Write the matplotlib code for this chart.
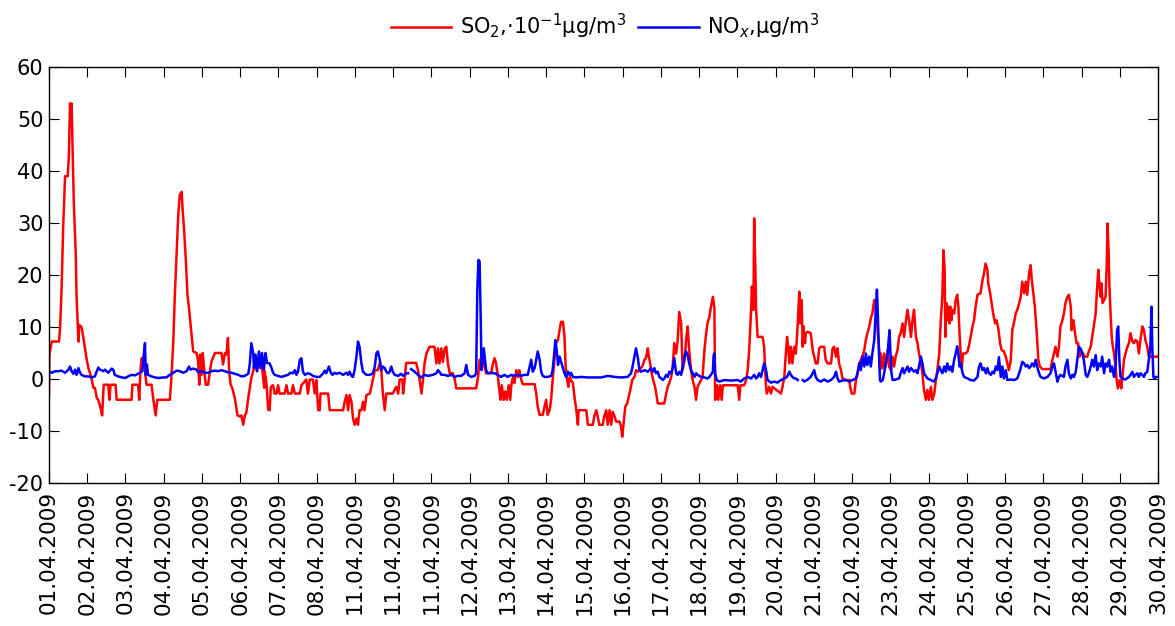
import numpy as np
import matplotlib
matplotlib.use("Agg")
import matplotlib.pyplot as plt

plt.rcParams["axes.unicode_minus"] = False

# Day labels under the 30 ticks (one tick per day of the record)
date_labels = [
    "01.04.2009", "02.04.2009", "03.04.2009", "04.04.2009", "05.04.2009",
    "06.04.2009", "07.04.2009", "08.04.2009", "11.04.2009", "11.04.2009",
    "11.04.2009", "12.04.2009", "13.04.2009", "14.04.2009", "15.04.2009",
    "16.04.2009", "17.04.2009", "18.04.2009", "19.04.2009", "20.04.2009",
    "21.04.2009", "22.04.2009", "23.04.2009", "24.04.2009", "25.04.2009",
    "26.04.2009", "27.04.2009", "28.04.2009", "29.04.2009", "30.04.2009",
]

# SO2 (x 10^-1 ug/m3): time in days since the start of the record
so2_days = [
    0.00, 0.01, 0.07, 0.26, 0.29, 0.33, 0.37, 0.42, 0.49, 0.52,
    0.55, 0.575, 0.59, 0.62, 0.65, 0.70, 0.72, 0.75, 0.77, 0.79,
    0.85, 0.90, 0.94, 0.98, 1.03, 1.11, 1.16, 1.20, 1.25, 1.29,
    1.36, 1.39, 1.43, 1.55, 1.58, 1.61, 1.74, 1.77, 2.16, 2.18,
    2.33, 2.36, 2.39, 2.42, 2.48, 2.51, 2.55, 2.68, 2.73, 2.79,
    2.83, 3.16, 3.20, 3.25, 3.29, 3.34, 3.38, 3.42, 3.47, 3.49,
    3.54, 3.58, 3.62, 3.66, 3.71, 3.77, 3.86, 3.90, 3.93, 3.95,
    3.99, 4.02, 4.06, 4.10, 4.16, 4.21, 4.25, 4.34, 4.51, 4.55,
    4.60, 4.64, 4.68, 4.71, 4.75, 4.79, 4.86, 4.93, 4.99, 5.03,
    5.08, 5.12, 5.16, 5.21, 5.25, 5.29, 5.34, 5.38, 5.44, 5.49,
    5.56, 5.63, 5.64, 5.69, 5.73, 5.77, 5.80, 5.86, 5.90, 5.95,
    5.99, 6.03, 6.16, 6.21, 6.25, 6.34, 6.38, 6.43, 6.56, 6.60,
    6.73, 6.77, 6.82, 6.90, 6.95, 6.99, 7.04, 7.08, 7.10, 7.30,
    7.34, 7.69, 7.73, 7.78, 7.82, 7.86, 7.91, 7.95, 7.99, 8.04,
    8.08, 8.12, 8.17, 8.21, 8.25, 8.30, 8.39, 8.43, 8.47, 8.52,
    8.60, 8.65, 8.69, 8.73, 8.78, 8.82, 8.99, 9.08, 9.13, 9.17,
    9.24, 9.26, 9.30, 9.34, 9.60, 9.65, 9.69, 9.74, 9.78, 9.82,
    9.87, 9.95, 10.08, 10.13, 10.17, 10.21, 10.26, 10.30, 10.35, 10.39,
    10.43, 10.48, 10.56, 10.61, 10.65, 11.17, 11.22, 11.26, 11.35, 11.39,
    11.43, 11.56, 11.61, 11.65, 11.69, 11.74, 11.78, 11.81, 11.84, 11.89,
    11.93, 11.97, 12.02, 12.06, 12.09, 12.13, 12.17, 12.22, 12.26, 12.30,
    12.35, 12.39, 12.70, 12.74, 12.78, 12.83, 12.91, 12.96, 13.00, 13.04,
    13.09, 13.13, 13.17, 13.22, 13.26, 13.31, 13.35, 13.39, 13.44, 13.48,
    13.51, 13.55, 13.58, 13.62, 13.65, 13.70, 13.74, 13.79, 13.83, 13.85,
    14.05, 14.09, 14.22, 14.26, 14.31, 14.35, 14.39, 14.48, 14.52, 14.57,
    14.61, 14.66, 14.70, 14.74, 14.79, 14.83, 14.92, 14.96, 14.99, 15.03,
    15.07, 15.12, 15.16, 15.20, 15.25, 15.31, 15.35, 15.40, 15.44, 15.48,
    15.53, 15.57, 15.61, 15.66, 15.68, 15.72, 15.76, 15.80, 15.85, 15.89,
    15.92, 16.09, 16.14, 16.18, 16.22, 16.27, 16.31, 16.35, 16.40, 16.44,
    16.48, 16.53, 16.57, 16.62, 16.66, 16.70, 16.74, 16.79, 16.83, 16.88,
    16.92, 16.96, 17.01, 17.05, 17.09, 17.14, 17.18, 17.22, 17.27, 17.31,
    17.36, 17.40, 17.42, 17.47, 17.50, 17.55, 17.59, 17.62, 18.01, 18.05,
    18.08, 18.18, 18.23, 18.27, 18.31, 18.36, 18.38, 18.42, 18.44, 18.47,
    18.49, 18.53, 18.66, 18.70, 18.75, 18.77, 18.83, 18.88, 18.92, 19.14,
    19.18, 19.23, 19.25, 19.30, 19.33, 19.36, 19.40, 19.44, 19.49, 19.53,
    19.58, 19.62, 19.64, 19.68, 19.71, 19.73, 19.77, 19.79, 19.84, 19.92,
    19.97, 20.01, 20.05, 20.10, 20.14, 20.18, 20.27, 20.31, 20.36, 20.45,
    20.49, 20.53, 20.58, 20.62, 20.66, 20.71, 20.75, 20.84, 20.93, 20.95,
    20.99, 21.06, 21.10, 21.14, 21.19, 21.23, 21.27, 21.32, 21.36, 21.40,
    21.45, 21.49, 21.53, 21.58, 21.62, 21.66, 21.71, 21.73, 21.75, 21.80,
    21.84, 21.88, 21.93, 21.97, 22.01, 22.06, 22.10, 22.14, 22.19, 22.23,
    22.27, 22.32, 22.36, 22.40, 22.45, 22.49, 22.54, 22.58, 22.62, 22.67,
    22.71, 22.75, 22.80, 22.84, 22.88, 22.93, 22.97, 23.01, 23.06, 23.10,
    23.15, 23.19, 23.23, 23.28, 23.32, 23.36, 23.39, 23.42, 23.44, 23.47,
    23.49, 23.52, 23.55, 23.57, 23.60, 23.62, 23.67, 23.71, 23.75, 23.78,
    23.81, 23.84, 23.87, 23.90, 23.97, 24.02, 24.06, 24.10, 24.15, 24.19,
    24.23, 24.28, 24.36, 24.41, 24.45, 24.49, 24.54, 24.56, 24.61, 24.65,
    24.69, 24.74, 24.78, 24.83, 24.87, 24.91, 24.97, 25.02, 25.06, 25.10,
    25.15, 25.19, 25.23, 25.28, 25.32, 25.37, 25.41, 25.45, 25.50, 25.54,
    25.58, 25.63, 25.67, 25.70, 25.74, 25.78, 25.83, 25.87, 25.91, 25.98,
    26.19, 26.24, 26.28, 26.32, 26.37, 26.41, 26.45, 26.50, 26.54, 26.58,
    26.63, 26.67, 26.72, 26.74, 26.79, 26.83, 26.87, 26.91, 26.95, 26.99,
    27.04, 27.08, 27.15, 27.19, 27.24, 27.28, 27.32, 27.37, 27.41, 27.44,
    27.47, 27.50, 27.52, 27.55, 27.59, 27.63, 27.66, 27.68, 27.71, 27.73,
    27.76, 27.79, 27.82, 27.85, 27.89, 27.92, 27.95, 28.00, 28.04, 28.07,
    28.11, 28.15, 28.20, 28.24, 28.28, 28.33, 28.37, 28.41, 28.46, 28.50,
    28.54, 28.59, 28.63, 28.67, 28.72, 28.76, 28.81, 29.00,
]
so2_vals = [
    -3.3, 4.7, 7.2, 7.2, 9.8, 17.5, 29.0, 39.0, 39.0, 43.0,
    53.0, 50.0, 53.0, 43.0, 33.5, 24.0, 16.0, 10.4, 7.2, 10.4,
    10.0, 7.9, 6.0, 4.0, 2.1, 0.2, -1.7, -1.7, -3.7, -4.0,
    -5.9, -7.0, -1.1, -1.1, -4.0, -1.1, -1.1, -4.0, -4.0, -1.1,
    -1.1, -4.0, 1.5, 4.0, 4.0, 1.5, -1.1, -1.1, -4.0, -7.0,
    -4.0, -4.0, 0.2, 7.2, 16.0, 24.5, 31.6, 35.4, 36.0, 33.0,
    27.8, 22.6, 16.2, 13.7, 9.8, 5.3, 5.0, 3.4, -1.1, 4.7,
    0.8, 5.0, 1.5, -1.1, -1.1, 1.5, 3.4, 5.0, 5.0, 2.8,
    5.0, 4.7, 7.9, 1.5, -1.1, -1.7, -3.7, -7.0, -7.2, -7.0,
    -8.8, -7.0, -6.5, -3.7, -1.7, 0.2, 1.5, 3.4, 1.5, 4.0,
    2.8, -1.7, 1.5, -1.1, -5.9, -6.0, -1.5, -1.2, -2.8, -2.8,
    -1.2, -2.8, -2.8, -1.2, -2.8, -2.8, -1.2, -2.8, -2.8, -1.2,
    -0.1, -2.8, -0.1, -0.1, -2.8, -0.2, -6.0, -6.0, -2.8, -2.8,
    -6.0, -6.0, -4.4, -3.1, -6.0, -3.1, -4.4, -7.6, -8.8, -7.6,
    -8.8, -6.0, -6.0, -4.4, -6.0, -3.1, -2.8, -1.5, -0.1, 1.7,
    1.7, 3.0, 1.7, -2.8, -6.0, -2.8, -2.8, -1.5, -2.8, -0.1,
    -0.1, -2.8, -0.2, 3.1, 3.1, 1.7, -0.1, -2.8, -0.1, 3.0,
    4.9, 6.2, 6.2, 3.0, 5.9, 3.0, 5.9, 3.3, 5.9, 6.2,
    3.0, 1.1, 1.1, -0.1, -1.8, -1.8, 0.4, 3.7, 3.7, 2.4,
    1.1, 1.1, 3.0, 4.0, 3.0, 0.4, -2.4, -4.0, -1.2, -4.0,
    -2.4, -4.0, -1.2, -4.0, -1.2, 0.4, -0.8, 1.7, 0.4, 1.7,
    -0.2, -1.0, -1.0, -2.8, -5.3, -6.9, -6.9, -5.3, -4.0, -6.9,
    -6.0, -4.0, -0.2, 4.0, 6.9, 7.5, 9.4, 11.0, 11.0, 8.1,
    2.4, -0.2, -1.5, 0.4, -0.2, -0.8, -3.4, -6.0, -8.8, -6.0,
    -6.0, -8.8, -8.8, -7.2, -6.0, -7.2, -8.8, -8.8, -7.2, -6.0,
    -8.8, -6.0, -8.8, -6.3, -7.2, -8.2, -8.2, -9.2, -11.1, -8.2,
    -5.3, -4.7, -3.4, -2.1, -0.2, 0.4, 1.7, 1.4, 1.7, 2.1,
    2.7, 3.7, 4.0, 5.9, 4.6, 3.0, 1.1, -0.2, -1.5, -3.4,
    -4.7, -4.7, -2.8, -1.5, -0.8, 0.4, 2.4, 6.9, 4.9, 7.5,
    12.9, 10.7, 1.7, 3.7, 7.5, 10.1, 5.6, 1.7, -0.2, -1.5,
    -4.0, -1.5, -0.8, -0.2, 0.4, 5.6, 8.5, 10.7, 12.0, 13.9,
    15.8, 13.6, -4.0, -1.2, -4.0, -1.2, -4.0, -1.2, -1.2, -4.0,
    -1.2, -1.2, -0.2, 1.7, 5.6, 13.3, 17.8, 13.3, 30.9, 21.6,
    13.3, 8.1, 8.1, 6.2, -1.5, -2.8, -1.5, -2.8, -1.5, -2.8,
    -1.5, 0.4, 3.0, 8.1, 6.2, 3.0, 6.2, 3.0, 6.2, 4.9,
    10.7, 16.8, 10.7, 15.2, 6.2, 10.1, 6.9, 8.8, 9.1, 8.8,
    5.6, 4.3, 3.0, 3.0, 5.9, 6.2, 6.2, 3.7, 3.0, 3.0,
    5.9, 6.2, 4.3, 5.9, 3.0, 1.7, 0.1, -0.2, -0.2, -1.5,
    -2.8, -2.8, -0.2, 0.8, 3.0, 3.7, 4.3, 5.6, 7.5, 8.8,
    10.1, 11.7, 12.6, 15.2, 13.3, 10.1, 5.6, 1.7, 4.9, 2.1,
    4.9, 2.4, 5.6, 2.4, 1.7, 4.3, 2.4, 4.3, 5.6, 8.1,
    8.8, 10.7, 8.1, 10.7, 13.3, 11.3, 8.1, 11.3, 13.3, 8.1,
    6.9, 4.9, 3.0, 1.1, -2.1, -4.0, -2.1, -4.0, -1.5, -4.0,
    -2.8, -0.2, 1.7, 4.9, 11.3, 15.8, 24.8, 21.0, 8.1, 14.6,
    11.3, 13.9, 10.7, 13.9, 11.3, 13.3, 12.6, 15.2, 16.2, 13.9,
    8.8, 4.9, 2.1, 4.9, 4.9, 5.3, 6.5, 8.1, 10.1, 11.3,
    13.9, 16.2, 16.5, 19.0, 20.3, 22.2, 21.0, 18.4, 16.5, 14.6,
    12.6, 10.7, 11.3, 9.4, 6.9, 5.6, 5.3, 4.3, 3.0, 1.7,
    3.7, 9.4, 10.7, 12.6, 13.3, 14.6, 15.8, 18.7, 16.5, 18.7,
    16.2, 20.3, 21.9, 19.0, 16.5, 13.9, 8.8, 3.7, 2.4, 1.9,
    1.9, 3.7, 4.9, 6.2, 4.3, 6.2, 10.1, 11.3, 12.6, 14.6,
    15.8, 16.2, 13.9, 9.4, 11.3, 8.8, 6.9, 6.9, 4.3, 5.6,
    4.9, 4.3, 4.3, 5.3, 6.2, 8.1, 10.1, 12.6, 17.8, 21.0,
    17.8, 15.8, 18.4, 14.6, 15.2, 15.8, 22.2, 29.9, 24.2, 17.8,
    12.6, 8.1, 6.2, 4.9, 2.4, -0.2, -1.8, -0.2, -1.8, 0.4,
    3.7, 4.9, 6.2, 6.9, 8.8, 7.2, 6.9, 7.5, 7.2, 4.9,
    7.5, 10.1, 9.4, 7.5, 6.2, 4.3, 4.3, 4.3,
]

# NOx (ug/m3); NaN marks the two breaks in the record
nox_days = [
    0.00, 0.07, 0.16, 0.24, 0.33, 0.42, 0.51, 0.55, 0.59, 0.64,
    0.68, 0.72, 0.77, 0.81, 0.85, 0.94, 1.03, 1.11, 1.20, 1.25,
    1.29, 1.33, 1.42, 1.46, 1.55, 1.64, 1.68, 1.72, 1.81, 1.90,
    1.99, 2.07, 2.16, 2.25, 2.38, 2.44, 2.47, 2.51, 2.53, 2.56,
    2.59, 2.68, 2.77, 2.86, 2.99, 3.07, 3.16, 3.25, 3.34, 3.42,
    3.51, 3.60, 3.66, 3.70, 3.77, 3.86, 3.90, 3.99, 4.08, 4.16,
    4.25, 4.34, 4.42, 4.51, 4.60, 4.68, 4.77, 4.86, 4.95, 5.03,
    5.12, 5.21, 5.25, 5.29, 5.34, 5.36, 5.40, 5.44, 5.49, 5.53,
    5.57, 5.62, 5.66, 5.70, 5.77, 5.82, 5.86, 5.90, 5.99, 6.08,
    6.16, 6.25, 6.31, 6.38, 6.43, 6.47, 6.51, 6.56, 6.60, 6.64,
    6.69, 6.77, 6.82, 6.90, 6.99, 7.08, 7.17, 7.21, 7.25, 7.32,
    7.37, 7.41, 7.47, 7.51, 7.60, 7.69, 7.78, 7.82, 7.86, 7.91,
    7.95, 7.99, 8.04, 8.08, 8.12, 8.17, 8.21, 8.30, 8.39, 8.47,
    8.52, 8.56, 8.60, 8.65, 8.69, 8.73, 8.78, 8.82, 8.86, 8.91,
    8.95, 8.99, 9.04, 9.13, 9.21, 9.26, 9.30, 9.34, 9.39, 9.43,
    9.47, 9.56, 9.65, 9.74, 9.82, 9.91, 10.04, 10.13, 10.17, 10.21,
    10.26, 10.34, 10.43, 10.52, 10.61, 10.69, 10.78, 10.87, 10.91, 10.96,
    11.04, 11.13, 11.17, 11.20, 11.23, 11.26, 11.29, 11.31, 11.35, 11.37,
    11.40, 11.43, 11.48, 11.56, 11.65, 11.74, 11.82, 11.91, 11.99, 12.09,
    12.17, 12.26, 12.35, 12.43, 12.52, 12.56, 12.61, 12.65, 12.70, 12.74,
    12.78, 12.83, 12.87, 12.91, 12.96, 13.04, 13.13, 13.17, 13.22, 13.24,
    13.28, 13.31, 13.35, 13.39, 13.44, 13.48, 13.52, 13.57, 13.61, 13.65,
    13.70, 13.78, 13.91, 14.09, 14.26, 14.44, 14.61, 14.79, 14.96, 15.13,
    15.22, 15.26, 15.31, 15.35, 15.40, 15.44, 15.48, 15.57, 15.66, 15.74,
    15.79, 15.83, 15.87, 15.92, 15.96, 16.01, 16.05, 16.09, 16.14, 16.18,
    16.22, 16.27, 16.31, 16.35, 16.40, 16.44, 16.48, 16.53, 16.57, 16.62,
    16.66, 16.70, 16.74, 16.79, 16.83, 16.88, 16.92, 16.96, 17.05, 17.14,
    17.22, 17.27, 17.31, 17.36, 17.38, 17.40, 17.42, 17.46, 17.53, 17.66,
    17.83, 18.01, 18.09, 18.18, 18.27, 18.36, 18.44, 18.49, 18.53, 18.57,
    18.62, 18.66, 18.70, 18.75, 18.79, 18.88, 18.97, 19.05, 19.14, 19.23,
    19.30, 19.36, 19.40, 19.44, 19.49, 19.53, 19.58, 19.64, 19.71, 19.75,
    19.84, 19.92, 19.97, 20.01, 20.05, 20.10, 20.18, 20.27, 20.36, 20.45,
    20.53, 20.58, 20.62, 20.66, 20.75, 20.84, 20.93, 21.01, 21.10, 21.14,
    21.19, 21.23, 21.27, 21.32, 21.36, 21.40, 21.45, 21.49, 21.53, 21.58,
    21.62, 21.65, 21.67, 21.70, 21.73, 21.75, 21.80, 21.84, 21.88, 21.93,
    21.95, 21.98, 22.00, 22.03, 22.06, 22.14, 22.23, 22.27, 22.32, 22.36,
    22.40, 22.45, 22.49, 22.54, 22.62, 22.67, 22.71, 22.75, 22.80, 22.84,
    22.88, 22.97, 23.06, 23.14, 23.19, 23.23, 23.28, 23.32, 23.36, 23.41,
    23.45, 23.49, 23.54, 23.58, 23.62, 23.67, 23.71, 23.75, 23.78, 23.81,
    23.84, 23.89, 23.93, 24.02, 24.10, 24.19, 24.28, 24.32, 24.36, 24.41,
    24.45, 24.50, 24.54, 24.58, 24.63, 24.67, 24.71, 24.76, 24.80, 24.84,
    24.89, 24.93, 24.97, 25.02, 25.06, 25.15, 25.24, 25.32, 25.37, 25.41,
    25.45, 25.50, 25.54, 25.58, 25.63, 25.67, 25.71, 25.76, 25.80, 25.84,
    25.89, 25.93, 26.02, 26.11, 26.19, 26.24, 26.28, 26.32, 26.37, 26.41,
    26.45, 26.54, 26.58, 26.63, 26.67, 26.72, 26.76, 26.80, 26.85, 26.89,
    26.93, 26.97, 27.02, 27.06, 27.11, 27.15, 27.19, 27.24, 27.28, 27.32,
    27.37, 27.41, 27.45, 27.50, 27.54, 27.59, 27.63, 27.67, 27.72, 27.76,
    27.80, 27.85, 27.89, 27.93, 27.96, 27.99, 28.02, 28.07, 28.15, 28.24,
    28.28, 28.33, 28.37, 28.41, 28.46, 28.50, 28.54, 28.59, 28.63, 28.67,
    28.72, 28.76, 28.80, 28.83, 28.85, 28.88, 28.91, 28.94, 29.00,
]
nox_vals = [
    1.5, 1.2, 1.5, 1.5, 1.6, 1.2, 1.8, 2.4, 1.5, 1.0,
    1.8, 0.8, 2.1, 1.2, 0.8, 0.5, 0.5, 0.3, 0.5, 1.5,
    2.2, 1.8, 1.5, 1.8, 1.2, 2.0, 1.8, 0.8, 0.5, 0.3,
    0.2, 0.5, 0.8, 0.7, 1.2, 1.5, 4.0, 6.9, 0.8, 2.8,
    0.8, 0.5, 0.3, 0.2, 0.3, 0.3, 0.8, 1.2, 1.6, 1.5,
    1.2, 1.5, 2.4, 1.8, 2.0, 1.8, 1.3, 1.5, 1.2, 1.2,
    1.5, 1.6, 1.5, 1.7, 1.5, 1.3, 1.2, 1.0, 0.8, 0.5,
    0.6, 1.0, 2.8, 6.9, 5.0, 2.1, 4.7, 1.5, 5.3, 2.1,
    5.0, 1.8, 5.0, 3.1, 3.0, 2.1, 1.2, 0.8, 0.6, 0.4,
    0.6, 0.8, 1.2, 1.1, 1.7, 0.8, 1.4, 3.7, 4.0, 1.4,
    0.8, 1.1, 1.0, 0.6, 0.4, 0.4, 1.1, 1.6, 1.1, 2.4,
    1.2, 0.8, 1.2, 1.0, 1.2, 0.8, 1.2, 0.8, 1.4, 0.6,
    0.4, 1.7, 4.3, 7.2, 6.2, 3.0, 1.4, 0.8, 0.8, 1.1,
    2.4, 4.9, 5.3, 3.7, 1.7, 2.4, 2.1, 1.4, 1.1, 1.4,
    2.4, 1.4, 0.8, 0.6, 1.0, 0.6, 0.8, 1.1, 1.1, np.nan,
    1.9, 1.4, 0.8, 0.3, 0.8, 0.6, 0.8, 1.1, 1.7, 1.4,
    0.8, 0.8, 0.6, 0.8, 0.4, 0.6, 0.6, 1.1, 2.7, 0.8,
    0.4, 0.6, 1.1, 17.1, 22.9, 22.6, 11.3, 1.7, 4.3, 5.9,
    3.7, 1.7, 1.1, 1.2, 1.1, 0.8, 0.4, 0.8, 0.4, 0.8,
    0.6, 0.8, 0.6, 0.8, 0.8, 2.1, 3.7, 1.4, 2.1, 3.7,
    5.3, 3.7, 1.4, 0.6, 0.4, 0.4, 0.6, 1.7, 5.6, 7.5,
    5.3, 2.7, 4.3, 3.3, 2.1, 1.1, 0.4, 1.4, 0.8, 1.2,
    0.4, 0.3, 0.4, 0.3, 0.3, 0.3, 0.6, 0.4, 0.3, 0.4,
    1.1, 2.4, 4.3, 5.9, 4.0, 1.7, 1.4, 1.7, 1.4, 2.1,
    1.4, 2.1, 1.1, 1.4, 0.4, 0.1, -0.2, 0.1, 0.8, 0.4,
    1.4, 1.1, 2.1, 4.0, 1.1, 0.8, 1.4, 0.8, 2.4, 4.3,
    5.3, 4.6, 3.0, 1.7, 1.1, 0.4, 1.1, 0.8, 0.4, 0.3,
    0.1, 0.4, 0.8, 1.4, 4.6, 4.9, 1.1, -0.2, -0.5, -0.2,
    -0.3, -0.2, -0.5, 0.1, 0.4, 0.1, 0.8, 0.1, 0.4, 1.1,
    0.4, 1.7, 3.0, 1.7, -0.2, -0.7, -0.5, -0.7, -0.2, 0.1,
    0.4, 1.4, 0.8, 0.4, 0.1, 0.1, -0.2, np.nan, -0.2, -0.5,
    -0.1, 0.4, 1.1, 1.7, 0.4, -0.2, -0.5, -0.1, -0.5, -0.2,
    0.4, 1.4, 0.1, -0.5, -0.3, -0.2, -0.5, -0.2, 0.1, 1.1,
    3.0, 1.7, 4.3, 2.4, 4.9, 2.7, 4.3, 2.4, 4.9, 7.5,
    13.3, 17.2, 13.3, 5.6, -0.2, -0.5, -0.2, 1.1, 3.0, 4.9,
    6.9, 9.4, 5.6, 1.1, -0.2, -0.1, 0.1, 1.1, 2.1, 1.1,
    1.7, 2.4, 1.4, 2.1, 1.4, 1.7, 1.1, 2.4, 4.3, 3.0,
    1.1, 0.1, -0.2, -0.5, 0.1, 1.1, 2.4, 1.7, 1.1, 2.4,
    1.4, 3.0, 1.7, 2.4, 1.4, 3.7, 4.9, 6.3, 4.9, 2.4,
    3.0, 1.1, 0.4, 0.1, -0.2, -0.3, 0.4, 2.4, 3.0, 1.7,
    2.1, 1.1, 2.1, 1.1, 0.8, 1.4, 1.1, 2.4, 1.7, 4.2,
    0.4, 2.4, 0.1, 1.7, -0.2, -0.1, -0.2, 0.1, 1.1, 2.1,
    3.3, 3.0, 2.4, 2.7, 2.1, 2.4, 3.0, 2.4, 3.7, 2.4,
    1.1, 0.4, 0.1, 0.4, 1.1, 2.4, 3.0, 1.4, -0.5, 0.4,
    0.8, 0.4, 2.4, 3.7, 1.1, 0.1, 0.8, 0.4, 1.4, 3.7,
    6.2, 5.9, 4.9, 3.7, 0.8, 0.4, 1.1, 2.4, 3.7, 2.4,
    4.6, 1.7, 3.0, 2.4, 4.3, 1.1, 3.0, 2.4, 3.7, 1.4,
    2.4, 0.4, 2.4, 9.4, 10.1, 3.7, 0.4, 0.1, -0.1, 0.4,
    0.8, 1.4, 0.4, 0.8, 1.1, 0.4, 1.1, 0.8, 0.4, 1.1,
    1.4, 3.7, 6.2, 13.9, 6.2, 0.4, 0.1, 0.4, 0.4,
]

fig = plt.figure(figsize=(11.75, 6.26), dpi=100)
ax = fig.add_axes([49 / 1175, 1 - 483 / 626, (1158 - 49) / 1175, (483 - 67) / 626])

so2_line, = ax.plot(so2_days, so2_vals, color="#ff0000", lw=1.8,
                    label="SO$_2$,·10$^{-1}$μg/m$^3$")
nox_line, = ax.plot(nox_days, nox_vals, color="#0000ff", lw=1.8,
                    label="NO$_x$,μg/m$^3$")

ax.set_xlim(0, 29)
ax.set_ylim(-20, 60)
ax.set_yticks(np.arange(-20, 61, 10))
ax.set_xticks(np.arange(len(date_labels)))
ax.set_xticklabels(date_labels, rotation=90)
ax.tick_params(direction="in", length=7, width=0.8, top=True, right=True,
               labelsize=15)
ax.tick_params(axis="x", pad=6, labelsize=15.5)
ax.tick_params(axis="y", pad=4)
for sp in ax.spines.values():
    sp.set_linewidth(1.0)

fig.legend(handles=[so2_line, nox_line], loc="center",
           bbox_to_anchor=(0.515, 0.958), ncol=2, frameon=False,
           fontsize=15, handlelength=2.9, handletextpad=0.4,
           columnspacing=0.6)

fig.savefig("out.png", dpi=100)
